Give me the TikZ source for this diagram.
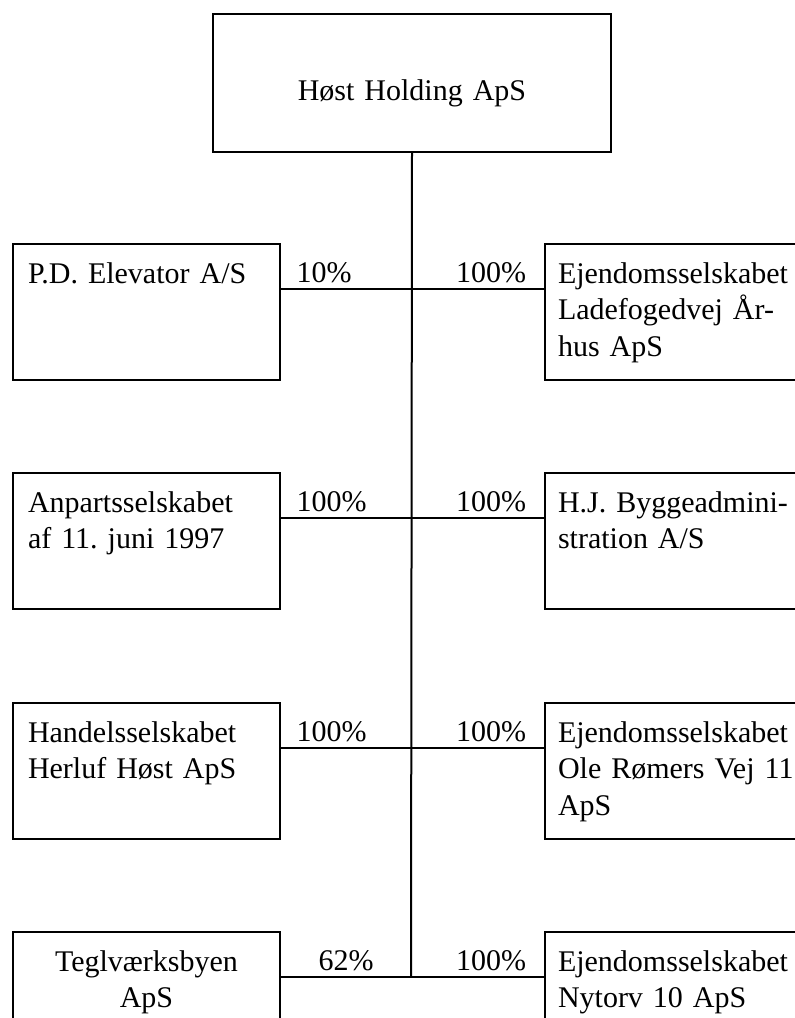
\documentclass[tikz,border=0pt]{standalone}
\usepackage{fontspec}
\setmainfont{Liberation Serif}
\frenchspacing
\usetikzlibrary{positioning}

\newcommand\firmfont{\fontsize{22.5pt}{27.4pt}\selectfont
  \spaceskip=0.19em plus 0.05em\relax}

\tikzset{
  firm/.style={draw, line width=1.5pt, anchor=north west, inner ysep=0pt,
    inner xsep=11.25pt, text width=177.75pt, align=left,
    text height=29.25pt, text depth=72.75pt},
  subfirm/.style={firm, inner xsep=9.75pt, text width=198pt},
  link/.style={line width=1.5pt},
  pct/.style={inner sep=0pt, yshift=5.25pt},
  pctL/.style={pct, pos=0, anchor=base west, xshift=11pt},
  pctR/.style={pct, pos=1, anchor=base east, xshift=-12.75pt},
  pctC/.style={pct, midway, anchor=base},
}

\begin{document}
\begin{tikzpicture}[x=0.75pt, y=-0.75pt, font=\firmfont]
  \clip (0,0) rectangle (795,1018);

  % holding company
  \node[firm, inner xsep=0pt, text width=298.5pt, align=center,
    text height=64.5pt, text depth=39pt] (hold) at (212,13) {Høst Holding ApS};

  % left column
  \node[firm] (pd)   at (12,243) {P.D. Elevator A/S};
  \node[firm] (anp)  at (12,472) {Anpartsselskabet\\af 11. juni 1997};
  \node[firm] (hand) at (12,702) {Handelsselskabet\\Herluf Høst ApS};
  \node[firm, align=center] (tegl) at (12,931) {Teglværksbyen\\ApS};

  % right column
  \node[subfirm] (lade) at (544,243) {Ejendomsselskabet\\Ladefogedvej År-\\hus ApS};
  \node[subfirm] (hj)   at (544,472) {H.J. Byggeadmini-\\stration A/S};
  \node[subfirm] (ole)  at (544,702) {Ejendomsselskabet\\Ole Rømers Vej 11\\ApS};
  \node[subfirm] (nyt)  at (544,931) {Ejendomsselskabet\\Nytorv 10 ApS};

  \foreach \i/\y in {1/289, 2/518, 3/748, 4/977}
    \coordinate (j\i) at (411,\y);

  \draw[link] (hold.south) -- (j4);

  \draw[link] (pd.east |- j1) -- node[pctL] (s1) {10\%} (j1)
    -- node[pctR] (s2) {100\%} (lade.west |- j1);
  \draw[link] (anp.east |- j2) -- node[pctL] (s3) {100\%} (j2)
    -- node[pctR] (s4) {100\%} (hj.west |- j2);
  \draw[link] (hand.east |- j3) -- node[pctL] (s5) {100\%} (j3)
    -- node[pctR] (s6) {100\%} (ole.west |- j3);
  \draw[link] (tegl.east |- j4) -- node[pctC] (s7) {62\%} (j4)
    -- node[pctR] (s8) {100\%} (nyt.west |- j4);
\end{tikzpicture}
\end{document}
